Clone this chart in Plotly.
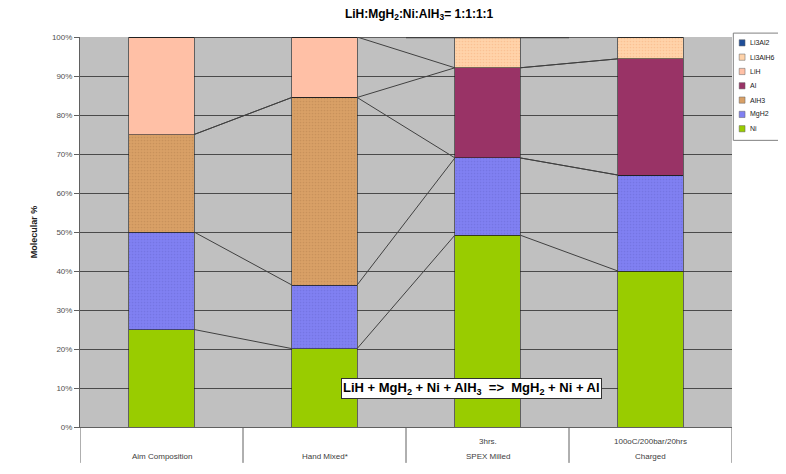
import plotly.graph_objects as go

# categories (two-level Excel style labels)
cat_top = ["", "", "3hrs.", "100oC/200bar/20hrs"]
cat_bottom = ["Aim Composition", "Hand Mixed*", "SPEX Milled", "Charged"]

# molecular % per phase, stacked bottom -> top
ni = [25, 20.1, 49.2, 40.0]
mgh2 = [25, 16.3, 19.8, 24.6]
alh3 = [25, 48.1, 0, 0]
al = [0, 0, 23.1, 29.8]
lih = [25, 15.5, 0, 0]
li3alh6 = [0, 0, 7.9, 5.6]
li3al2 = [0, 0, 0, 0]

y_ticks = list(range(0, 101, 10))

series = [
    ("Ni", ni, "#99CC00", "", None),
    ("MgH2", mgh2, "#8080F2", ".", "rgba(70,70,160,0.35)"),
    ("AlH3", alh3, "#D9A066", ".", "rgba(120,80,40,0.35)"),
    ("Al", al, "#993366", "", None),
    ("LiH", lih, "#FFC0A6", "", None),
    ("Li3AlH6", li3alh6, "#FFD3AA", ".", "rgba(235,150,90,0.55)"),
    ("Li3Al2", li3al2, "#1F4E99", "", None),
]

xs = list(range(len(cat_bottom)))
half = 0.2  # half bar width in category units

fig = go.Figure()
for name, vals, col, pat, dotcol in series:
    marker = dict(color=col, line=dict(color="#202020", width=0.6))
    if pat:
        marker["pattern"] = dict(shape=pat, fgcolor=dotcol, size=3, solidity=0.25)
    fig.add_trace(go.Bar(x=xs, y=vals, name=name, width=2 * half, showlegend=False, marker=marker))

# Excel-like series lines joining the tops of each stacked series
lx, ly = [], []
cum = [0] * len(xs)
for name, vals, col, pat, dotcol in series:
    cum = [c + v for c, v in zip(cum, vals)]
    for i in range(len(xs) - 1):
        lx += [xs[i] + half, xs[i + 1] - half, None]
        ly += [cum[i], cum[i + 1], None]
fig.add_trace(go.Scatter(x=lx, y=ly, mode="lines", showlegend=False, hoverinfo="skip",
                         line=dict(color="#404040", width=1)))

# category separators and two-level labels below the axis
shapes = []
for b in [-0.5, 0.5, 1.5, 2.5, 3.5]:
    shapes.append(dict(type="line", xref="x", yref="paper", x0=b, x1=b, y0=0, y1=-0.092,
                       line=dict(color="#606060", width=1)))
shapes.append(dict(type="line", xref="x", yref="y", x0=1.5, x1=2.5, y0=100, y1=100,
                   line=dict(color="#404040", width=2.5)))

annotations = []
for i in xs:
    if cat_top[i]:
        annotations.append(dict(x=i, y=-0.037, xref="x", yref="paper", text=cat_top[i], showarrow=False,
                                font=dict(size=8, color="#404040"), yanchor="middle"))
    annotations.append(dict(x=i, y=-0.076, xref="x", yref="paper", text=cat_bottom[i], showarrow=False,
                            font=dict(size=8, color="#404040"), yanchor="middle"))

annotations.append(dict(
    x=1.9, y=10, xref="x", yref="y", showarrow=False,
    text="<b>LiH + MgH<sub>2</sub> + Ni + AlH<sub>3</sub>  =>  MgH<sub>2</sub> + Ni + Al</b>",
    font=dict(size=13, color="black", family="Liberation Sans"),
    bgcolor="white", bordercolor="#303030", borderwidth=1, borderpad=1,
))

# compact Excel-style legend box (top entry = last stacked series)
shapes.append(dict(type="rect", xref="paper", yref="paper", x0=1.002, x1=1.078, y0=0.735, y1=1.010,
                   fillcolor="white", line=dict(color="#808080", width=1)))
step = 0.0367
for k, (name, vals, col, pat, dotcol) in enumerate(reversed(series)):
    yc = 0.985 - k * step
    shapes.append(dict(type="rect", xref="paper", yref="paper", x0=1.011, x1=1.020,
                       y0=yc - 0.008, y1=yc + 0.008, fillcolor=col, line=dict(color="#606060", width=0.5)))
    annotations.append(dict(x=1.024, y=yc, xref="paper", yref="paper", text=name, showarrow=False,
                            xanchor="left", yanchor="middle", font=dict(size=7, color="#202020")))

fig.update_layout(
    width=786, height=474,
    barmode="stack",
    paper_bgcolor="white", plot_bgcolor="#C0C0C0",
    margin=dict(l=72, r=62, t=29, b=55),
    font=dict(family="Liberation Sans", color="#404040"),
    title=dict(text="<b>LiH:MgH<sub>2</sub>:Ni:AlH<sub>3</sub>= 1:1:1:1</b>", x=0.523, xanchor="center",
               y=0.988, yanchor="middle", font=dict(size=12, color="black")),
    showlegend=False,
    shapes=shapes,
    annotations=annotations,
    xaxis=dict(range=[-0.5, 3.5], showticklabels=False, showgrid=False, zeroline=False,
               showline=True, linecolor="#606060", ticks=""),
    yaxis=dict(range=[0, 100], tickvals=y_ticks, ticktext=[f"{v}%" for v in y_ticks],
               showgrid=True, gridcolor="#4A4A4A", gridwidth=1, zeroline=False,
               showline=True, linecolor="#606060", ticks="outside", ticklen=5, tickcolor="#606060",
               tickfont=dict(size=8, color="#505050"),
               title=dict(text="<b>Molecular %</b>", font=dict(size=9, color="#202020"), standoff=12)),
)

fig.write_html("out.html")
